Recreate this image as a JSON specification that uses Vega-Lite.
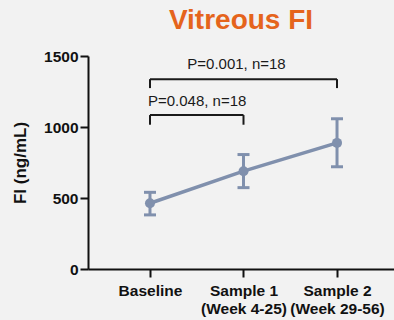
{
  "$schema": "https://vega.github.io/schema/vega-lite/v6.json",
  "width": 306,
  "height": 213,
  "autosize": {"type": "none"},
  "padding": {"left": 88, "top": 56, "right": 0, "bottom": 51},
  "background": "#f2f2f2",
  "config": {
    "font": "Liberation Sans",
    "view": {"stroke": null},
    "axis": {"grid": false}
  },
  "title": {
    "text": "Vitreous FI",
    "color": "#e5641c",
    "fontSize": 28,
    "fontWeight": "bold",
    "font": "Liberation Sans",
    "anchor": "middle",
    "offset": 14
  },
  "datasets": {
    "main": [
      {"group": "Baseline", "mean": 463, "lo": 381, "hi": 540},
      {"group": "Sample 1", "mean": 689, "lo": 573, "hi": 806},
      {"group": "Sample 2", "mean": 888, "lo": 720, "hi": 1058}
    ],
    "hbr": [
      {"a": "Baseline", "b": "Sample 2", "y": 1337},
      {"a": "Baseline", "b": "Sample 1", "y": 1084}
    ],
    "vbr": [
      {"x": "Baseline", "y1": 1274, "y2": 1337},
      {"x": "Sample 2", "y1": 1274, "y2": 1337},
      {"x": "Baseline", "y1": 1016, "y2": 1084},
      {"x": "Sample 1", "y1": 1016, "y2": 1084}
    ]
  },
  "layer": [
    {
      "data": {"name": "hbr"},
      "mark": {"type": "rule", "color": "#1a1a1a", "strokeWidth": 2},
      "encoding": {
        "x": {"field": "a", "type": "ordinal"},
        "x2": {"field": "b"},
        "y": {"field": "y", "type": "quantitative"}
      }
    },
    {
      "data": {"name": "vbr"},
      "mark": {"type": "rule", "color": "#1a1a1a", "strokeWidth": 2},
      "encoding": {
        "x": {"field": "x", "type": "ordinal"},
        "y": {"field": "y1", "type": "quantitative"},
        "y2": {"field": "y2"}
      }
    },
    {
      "data": {"values": [{"x": "Sample 1", "y": 1409, "t": "P=0.001, n=18"}]},
      "mark": {"type": "text", "fontSize": 15, "color": "#1a1a1a", "align": "center", "baseline": "alphabetic", "dx": -7},
      "encoding": {
        "x": {"field": "x", "type": "ordinal"},
        "y": {"field": "y", "type": "quantitative"},
        "text": {"field": "t"}
      }
    },
    {
      "data": {"values": [{"x": "Baseline", "y": 1145, "t": "P=0.048, n=18"}]},
      "mark": {"type": "text", "fontSize": 15, "color": "#1a1a1a", "align": "left", "baseline": "alphabetic", "dx": -2},
      "encoding": {
        "x": {"field": "x", "type": "ordinal"},
        "y": {"field": "y", "type": "quantitative"},
        "text": {"field": "t"}
      }
    },
    {
      "data": {"name": "main"},
      "mark": {"type": "rule", "color": "#8090ad", "strokeWidth": 3},
      "encoding": {
        "x": {"field": "group", "type": "ordinal"},
        "y": {"field": "lo", "type": "quantitative"},
        "y2": {"field": "hi"}
      }
    },
    {
      "data": {"name": "main"},
      "mark": {"type": "tick", "color": "#8090ad", "thickness": 3, "size": 12, "opacity": 1},
      "encoding": {
        "x": {"field": "group", "type": "ordinal"},
        "y": {"field": "lo", "type": "quantitative"}
      }
    },
    {
      "data": {"name": "main"},
      "mark": {"type": "tick", "color": "#8090ad", "thickness": 3, "size": 12, "opacity": 1},
      "encoding": {
        "x": {"field": "group", "type": "ordinal"},
        "y": {"field": "hi", "type": "quantitative"}
      }
    },
    {
      "data": {"name": "main"},
      "mark": {"type": "line", "color": "#8090ad", "strokeWidth": 3.5},
      "encoding": {
        "x": {"field": "group", "type": "ordinal"},
        "y": {"field": "mean", "type": "quantitative"}
      }
    },
    {
      "data": {"name": "main"},
      "mark": {"type": "point", "filled": true, "color": "#8090ad", "size": 100, "opacity": 1},
      "encoding": {
        "x": {
          "field": "group",
          "type": "ordinal",
          "scale": {"type": "point", "padding": 0.636, "align": 0.521},
          "axis": {
            "title": null,
            "labelAngle": 0,
            "labelAlign": "center",
            "labelBaseline": "top",
            "labelFontSize": 15.5,
            "labelFontWeight": "bold",
            "labelColor": "#111111",
            "labelPadding": 6,
            "labelLineHeight": 18,
            "labelExpr": "datum.value == 'Sample 1' ? ['Sample 1', '(Week 4-25)'] : datum.value == 'Sample 2' ? ['Sample 2', '(Week 29-56)'] : datum.value",
            "domainColor": "#111111",
            "domainWidth": 2,
            "tickColor": "#111111",
            "tickWidth": 2,
            "tickSize": 8
          }
        },
        "y": {
          "field": "mean",
          "type": "quantitative",
          "scale": {"domain": [0, 1500], "nice": false},
          "axis": {
            "title": "FI (ng/mL)",
            "format": "d",
            "titleFontSize": 17,
            "titleFontWeight": "bold",
            "titleColor": "#111111",
            "titlePadding": 14,
            "values": [0, 500, 1000, 1500],
            "labelFontSize": 15.5,
            "labelFontWeight": "bold",
            "labelColor": "#111111",
            "labelPadding": 2,
            "domainColor": "#111111",
            "domainWidth": 2,
            "tickColor": "#111111",
            "tickWidth": 2,
            "tickSize": 8
          }
        }
      }
    }
  ]
}
